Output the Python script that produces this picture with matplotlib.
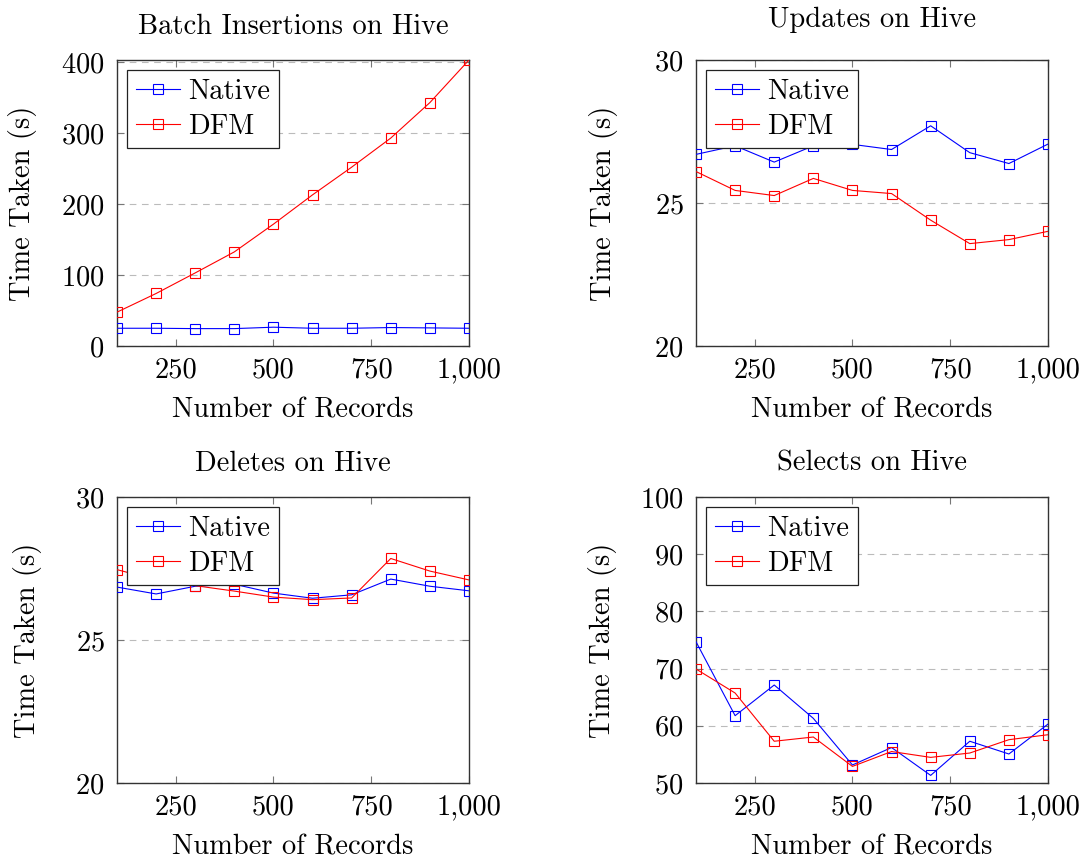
import matplotlib
matplotlib.use("Agg")
import matplotlib.pyplot as plt
from matplotlib.ticker import FixedLocator, FuncFormatter

plt.rcParams["font.family"] = ["cmr10", "DejaVu Serif"]
plt.rcParams["axes.formatter.use_mathtext"] = True

records = [100, 200, 300, 400, 500, 600, 700, 800, 900, 1000]

insert_native = [25, 25, 24.5, 24.5, 26.5, 25, 25, 26, 25.5, 25]
insert_dfm = [47.7, 74, 103, 132.6, 171.7, 213, 252, 293, 343, 403]

update_native = [26.7, 27.0, 26.43, 27.0, 27.05, 26.87, 27.7, 26.76, 26.38, 27.06]
update_dfm = [26.1, 25.44, 25.26, 25.86, 25.44, 25.33, 24.4, 23.58, 23.72, 24.01]

delete_native = [26.85, 26.61, 26.88, 26.95, 26.64, 26.46, 26.58, 27.13, 26.88, 26.72]
delete_dfm = [27.46, 27.1, 26.9, 26.71, 26.5, 26.41, 26.47, 27.85, 27.41, 27.1]

select_native = [74.7, 61.77, 67.13, 61.3, 53.15, 56.2, 51.33, 57.3, 55.07, 60.3]
select_dfm = [69.93, 65.73, 57.3, 58.04, 52.9, 55.5, 54.48, 55.24, 57.57, 58.44]

x_ticks = [250, 500, 750, 1000]

panels = [
    ("Batch Insertions on Hive", insert_native, insert_dfm, (0, 403), [0, 100, 200, 300, 400]),
    ("Updates on Hive", update_native, update_dfm, (20, 30), [20, 25, 30]),
    ("Deletes on Hive", delete_native, delete_dfm, (20, 30), [20, 25, 30]),
    ("Selects on Hive", select_native, select_dfm, (50, 100), [50, 60, 70, 80, 90, 100]),
]

W, H = 1085, 860
fig = plt.figure(figsize=(W / 100, H / 100), dpi=100)

# axes top-left corners (px) and y-label offsets from the left spine (px)
boxes = [(117, 60), (696, 60), (117, 497), (696, 497)]
ylabel_gap = [80, 78, 75, 79]
title_pad = [19, 24, 19, 19]
ax_w, ax_h = 352, 286

FS = 20.5


def thousands(v, pos):
    return f"{int(v):,}"


for (title, native, dfm, ylim, yticks), (px, py), gap, tpad in zip(
        panels, boxes, ylabel_gap, title_pad):
    ax = fig.add_axes([px / W, 1 - (py + ax_h) / H, ax_w / W, ax_h / H])
    ax.plot(records, native, color="blue", lw=0.8, marker="s", ms=7.6,
            mfc="none", mec="blue", mew=0.8, label="Native", zorder=3)
    ax.plot(records, dfm, color="red", lw=0.8, marker="s", ms=7.6,
            mfc="none", mec="red", mew=0.8, label="DFM", zorder=3)
    ax.set_xlim(100, 1000)
    ax.set_ylim(*ylim)
    ax.xaxis.set_major_locator(FixedLocator(x_ticks))
    ax.xaxis.set_major_formatter(FuncFormatter(thousands))
    ax.yaxis.set_major_locator(FixedLocator(yticks))
    ax.grid(axis="y", color="#bbbbbb", ls=(0, (6, 5)), lw=0.8, zorder=0)
    ax.tick_params(direction="in", top=True, right=True, length=5,
                   width=0.8, color="#777777", labelsize=FS)
    ax.tick_params(axis="x", pad=8)
    ax.tick_params(axis="y", pad=9)
    for s in ax.spines.values():
        s.set_color("#333333")
        s.set_linewidth(1.0)
    ax.set_title(title, fontsize=FS, pad=tpad)
    ax.set_xlabel("Number of Records", fontsize=FS, labelpad=10)
    ax.set_ylabel("Time Taken (s)", fontsize=FS)
    ax.yaxis.set_label_coords(-gap / ax_w, 0.5)
    leg = ax.legend(loc="upper left", fontsize=FS, numpoints=1, fancybox=False,
                    framealpha=1, edgecolor="#222222", handlelength=1.55,
                    borderpad=0.3, labelspacing=0.3, handletextpad=0.3,
                    borderaxespad=0.35)
    leg.get_frame().set_linewidth(0.9)

fig.savefig("out.png", dpi=100)
